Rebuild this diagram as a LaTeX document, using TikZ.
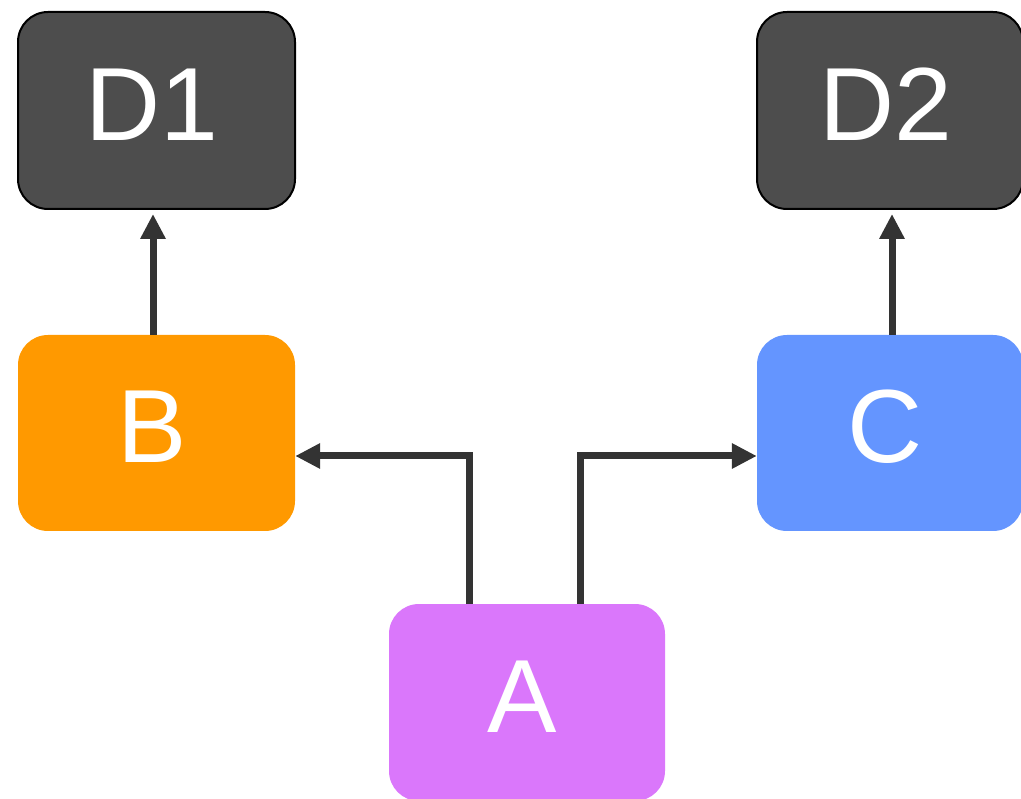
\documentclass[tikz,border=0pt]{standalone}
\usepackage{fontspec}
\setmainfont{Liberation Sans}
\usetikzlibrary{arrows.meta}
\definecolor{dgray}{HTML}{4D4D4D}
\definecolor{borange}{HTML}{FF9900}
\definecolor{cblue}{HTML}{6495FF}
\definecolor{apurple}{HTML}{DA77FB}
\definecolor{arrowc}{HTML}{333333}
\newcommand\boxlbl[1]{\raisebox{-30pt}[0pt][0pt]{\kern-9pt#1}}
\begin{document}
\begin{tikzpicture}[x=1pt,y=-1pt,
  box/.style={rectangle,rounded corners=30pt,inner sep=0pt,text=white,
    font=\fontsize{104}{110}\selectfont},
  dbox/.style={box,fill=dgray,draw=black,line width=2pt},
  conn/.style={draw=arrowc,line width=7pt,line join=miter,
    -{Triangle[length=25pt,width=24pt]}}]
\useasboundingbox (0,0) rectangle (1021,799);
\clip (0,0) rectangle (1021,799);
\node[dbox,minimum width=277pt,minimum height=197pt] (D1) at (156.5,110.5) {\boxlbl{D1}};
\node[dbox,minimum width=266pt,minimum height=197pt] (D2) at (890,110.5) {\boxlbl{D2}};
\node[box,fill=borange,minimum width=277pt,minimum height=196pt] (B) at (156.5,433) {\boxlbl{B}};
\node[box,fill=cblue,minimum width=266pt,minimum height=196pt] (C) at (890,433) {\boxlbl{C}};
\node[box,fill=apurple,minimum width=276pt,minimum height=197pt] (A) at (527,702.5) {\boxlbl{A}};
\coordinate (bl) at (469,456);
\coordinate (cr) at (580,456);
\draw[conn] ([xshift=-3.5pt]B.north) -- ([xshift=-3.5pt,yshift=-4pt]D1.south);
\draw[conn] ([xshift=2pt]C.north) -- ([xshift=2pt,yshift=-4pt]D2.south);
\draw[conn] (A.north -| bl) |- (B.east |- bl);
\draw[conn] (A.north -| cr) |- (C.west |- cr);
\end{tikzpicture}
\end{document}
